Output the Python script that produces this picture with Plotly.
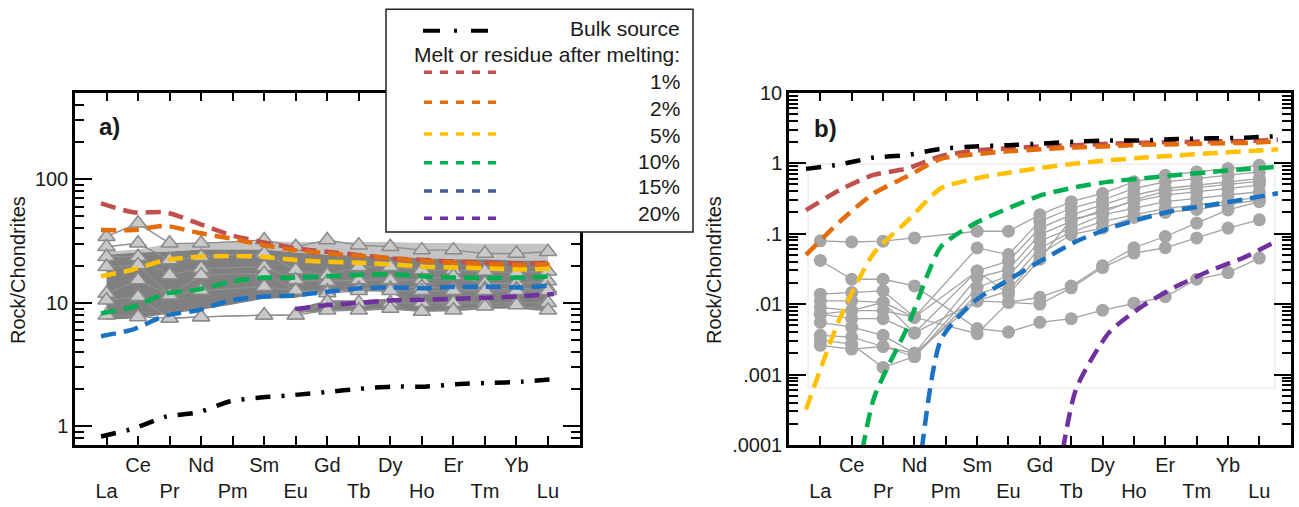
import plotly.graph_objects as go

# ---------------- data ----------------
elements = ["La", "Ce", "Pr", "Nd", "Pm", "Sm", "Eu", "Gd", "Tb", "Dy", "Ho", "Er", "Tm", "Yb", "Lu"]

bulk_source = [0.83, 0.96, 1.2, 1.3, 1.6, 1.72, 1.8, 1.9, 2.02, 2.1, 2.1, 2.2, 2.25, 2.3, 2.42]

# panel a: melts
melt_1 = [63.8, 54.0, 54.0, 44.0, 35.4, 31.0, 27.6, 25.9, 24.3, 22.9, 22.2, 21.5, 21.1, 20.8, 21.1]
melt_2 = [38.8, 38.8, 41.9, 36.9, 33.2, 29.4, 26.7, 25.1, 24.0, 22.9, 21.8, 21.1, 20.5, 20.2, 20.6]
melt_5 = [16.4, 18.6, 22.2, 23.6, 23.9, 23.6, 22.2, 21.5, 21.1, 20.5, 19.6, 19.3, 19.0, 18.6, 19.0]
melt_10 = [8.2, 9.3, 11.9, 12.8, 14.8, 16.0, 16.0, 16.4, 16.8, 17.1, 16.3, 16.0, 15.9, 16.0, 16.4]
melt_15 = [5.37, 6.1, 7.9, 8.7, 10.5, 11.2, 11.5, 12.3, 13.1, 13.3, 13.1, 13.5, 13.5, 13.3, 13.9]
melt_20 = [None, None, None, None, None, None, 8.9, 9.6, 10.0, 10.5, 10.6, 10.8, 11.0, 11.3, 11.8]

# panel a: sample envelopes (grey fields)
field_light_top = [26, 27, 30, 31, 31, 31.5, 31, 31, 31, 31, 30.5, 30.5, 30, 30, 30]
field_dark_top = [24.5, 25.5, 26, 27, 27, 27, 25.5, 24.5, 24, 23.5, 23, 22.5, 22.5, 22, 22]
field_dark_bottom = [7.3, 7.5, 8.2, 8.8, 9.7, 10.8, 11.0, 12.3, 12.5, 12.3, 8.6, 8.5, 8.9, 9.0, 8.5]
field2_elements = ["Eu", "Gd", "Tb", "Dy", "Ho"]
field2_top = [9.0, 10.5, 10.5, 10.8, 11.5]
field2_bottom = [8.3, 8.5, 8.6, 8.8, 8.5]

# panel a: samples (triangles)
sample_a1 = [34.3, 44.0, 30.3, 30.3, None, 32.2, 28.4, 32.2, 29.3, 28.4, 26.7, 26.7, 25.1, 25.1, 25.9]
sample_a2 = [28.4, 30.3, 22.2, 23.6, None, 25.1, 18.4, 16.8, 19.6, 19.6, 18.4, 18.4, 18.0, 17.5, 18.0]
sample_a3 = [23.6, 23.6, 16.8, 19.0, None, 19.6, 15.3, 14.8, 15.3, 15.3, 15.3, 16.5, 14.4, 14.4, 15.0]
sample_a4 = [19.6, 20.2, 11.5, 16.8, None, 17.3, 12.6, 12.5, 13.0, 13.0, 13.5, 13.0, 13.0, 13.0, 13.0]
sample_a5 = [11.9, 15.3, 11.5, 12.6, None, 13.5, 12.6, 12.0, 12.5, 12.5, 12.5, 12.5, 12.5, 12.5, 12.5]
sample_a6 = [10.5, 11.2, 7.5, 7.7, None, 7.95, 7.95, 10.2, 10.0, 10.0, 10.0, 10.0, 10.0, 10.0, 10.0]
sample_a7 = [7.95, 7.7, 7.5, 7.7, None, 7.95, 7.95, 8.7, 8.7, 9.0, 8.5, 8.7, 9.4, 9.6, 8.7]

# panel b: residues
residue_1 = [0.215, 0.416, 0.68, 0.84, 1.26, 1.5, 1.62, 1.74, 1.8, 1.89, 1.95, 1.99, 2.04, 2.06, 2.15]
residue_2 = [0.05, 0.148, 0.37, 0.65, 1.15, 1.34, 1.47, 1.58, 1.67, 1.74, 1.83, 1.85, 1.9, 1.94, 2.04]
residue_5 = [3.2e-4, 0.0062, 0.052, 0.15, 0.44, 0.6, 0.73, 0.86, 0.99, 1.1, 1.2, 1.29, 1.38, 1.47, 1.57]
residue_10 = [None, 1e-6, 4.4e-4, 0.0046, 0.065, 0.139, 0.229, 0.354, 0.455, 0.547, 0.61, 0.68, 0.75, 0.82, 0.89]
residue_15 = [None, None, None, 1e-6, 0.0031, 0.011, 0.022, 0.042, 0.077, 0.119, 0.165, 0.217, 0.255, 0.307, 0.374]
residue_20 = [None, None, None, None, None, None, None, 1e-6, 6e-4, 0.004, 0.0095, 0.018, 0.03, 0.046, 0.08]

# panel b: samples (circles)
sample_b01 = [0.079, 0.076, 0.078, 0.087, None, 0.108, 0.108, 0.185, 0.284, 0.372, 0.543, 0.674, 0.751, 0.837, 0.932]
sample_b02 = [0.0416, 0.0225, 0.0225, 0.0181, None, 0.0045, 0.004, 0.0055, 0.0062, 0.0082, 0.0103, 0.0127, 0.0225, 0.028, 0.045]
sample_b03 = [0.0138, 0.0146, 0.0154, 0.0065, None, 0.0038, 0.0106, 0.0125, 0.018, 0.035, 0.063, 0.091, 0.141, 0.217, 0.284]
sample_b04 = [0.0111, 0.0111, 0.0106, 0.0039, None, 0.0111, 0.0106, 0.010, 0.017, 0.033, 0.053, 0.063, 0.087, 0.12, 0.157]
sample_b05 = [0.009, 0.0081, 0.0081, 0.0065, None, 0.0626, 0.0505, 0.149, 0.229, 0.30, 0.437, 0.543, 0.605, 0.674, 0.751]
sample_b06 = [0.0072, 0.0062, 0.0062, 0.0039, None, 0.0295, 0.0407, 0.12, 0.185, 0.255, 0.353, 0.437, 0.488, 0.543, 0.605]
sample_b07 = [0.0055, 0.0047, 0.0036, 0.002, None, 0.0238, 0.031, 0.097, 0.149, 0.217, 0.284, 0.353, 0.393, 0.437, 0.488]
sample_b08 = [0.0036, 0.0034, 0.0025, 0.0018, None, 0.0172, 0.025, 0.078, 0.12, 0.185, 0.229, 0.284, 0.316, 0.353, 0.393]
sample_b09 = [0.0031, 0.0027, 0.00126, 0.0018, None, 0.0138, 0.0191, 0.0626, 0.105, 0.149, 0.185, 0.229, 0.255, 0.284, 0.33]
sample_b10 = [0.0026, 0.0023, 0.0025, 0.002, None, 0.0111, 0.0154, 0.0505, 0.097, 0.12, 0.17, 0.2, 0.22, 0.26, 0.3]
sample_b11 = [0.0072, 0.0081, 0.0106, 0.0065, None, 0.0295, 0.0138, 0.0433, 0.16, 0.2, 0.3, 0.4, 0.45, 0.5, 0.55]

samples_a = [sample_a1, sample_a2, sample_a3, sample_a4, sample_a5, sample_a6, sample_a7]
samples_b = [sample_b01, sample_b02, sample_b03, sample_b04, sample_b05, sample_b06,
             sample_b07, sample_b08, sample_b09, sample_b10, sample_b11]

melt_labels = ["1%", "2%", "5%", "10%", "15%", "20%"]
melts = [melt_1, melt_2, melt_5, melt_10, melt_15, melt_20]
residues = [residue_1, residue_2, residue_5, residue_10, residue_15, residue_20]

y_ticks_a = [1, 10, 100]
y_ticktext_a = ["1", "10", "100"]
y_ticks_b = [1e-4, 1e-3, 1e-2, 1e-1, 1, 10]
y_ticktext_b = [".0001", ".001", ".01", ".1", "1", "10"]

# ---------------- style ----------------
W, H = 1299, 507
FONT = "Liberation Sans, Arial, Helvetica, sans-serif"
TXT = "#1a1a1a"
curve_colors = ["#c0504d", "#e46c0a", "#ffc000", "#00b050", "#1a72c4", "#7030a0"]
legend_colors = ["#c0504d", "#e46c0a", "#ffc000", "#00b050", "#3a5f95", "#7030a0"]
CURVE_DASH = "15px,8px"
BULK_DASH = "15px,11px,3px,11px"

positions = list(range(len(elements)))
tick_text = [e if i % 2 else " <br>" + e for i, e in enumerate(elements)]
minor_vals = [m * 10.0 ** e for e in range(-5, 3) for m in range(2, 10)]


def px(x):
    return x / W


def py(y):
    return 1 - y / H


fig = go.Figure()

# ---- panel a: grey fields ----
fig.add_trace(go.Scatter(x=positions, y=field_dark_top, mode="lines", line=dict(width=0),
                         showlegend=False, hoverinfo="skip", xaxis="x", yaxis="y"))
fig.add_trace(go.Scatter(x=positions, y=field_light_top, mode="lines", line=dict(width=0),
                         fill="tonexty", fillcolor="#c4c4c4",
                         showlegend=False, hoverinfo="skip", xaxis="x", yaxis="y"))
fig.add_trace(go.Scatter(x=positions, y=field_dark_bottom, mode="lines", line=dict(width=0),
                         showlegend=False, hoverinfo="skip", xaxis="x", yaxis="y"))
fig.add_trace(go.Scatter(x=positions, y=field_dark_top, mode="lines", line=dict(width=0),
                         fill="tonexty", fillcolor="#808080",
                         showlegend=False, hoverinfo="skip", xaxis="x", yaxis="y"))
f2x = [elements.index(e) for e in field2_elements]
fig.add_trace(go.Scatter(x=f2x, y=field2_bottom, mode="lines", line=dict(width=0),
                         showlegend=False, hoverinfo="skip", xaxis="x", yaxis="y"))
fig.add_trace(go.Scatter(x=f2x, y=field2_top, mode="lines", line=dict(width=0),
                         fill="tonexty", fillcolor="#808080",
                         showlegend=False, hoverinfo="skip", xaxis="x", yaxis="y"))

# ---- panel a: samples ----
for s in samples_a:
    fig.add_trace(go.Scatter(
        x=positions, y=s, mode="lines+markers", connectgaps=True,
        line=dict(color="#8e8e8e", width=1.4),
        marker=dict(symbol="triangle-up", size=15, color="#c9c9c9",
                    line=dict(color="#8a8a8a", width=1.5)),
        showlegend=False, hoverinfo="skip", xaxis="x", yaxis="y"))

# ---- panel a: model melts ----
for vals, col in zip(melts, curve_colors):
    fig.add_trace(go.Scatter(
        x=positions, y=vals, mode="lines", line=dict(color=col, width=4.5, dash=CURVE_DASH, shape="spline", smoothing=0.6),
        showlegend=False, hoverinfo="skip", xaxis="x3", yaxis="y"))
fig.add_trace(go.Scatter(
    x=positions, y=bulk_source, mode="lines",
    line=dict(color="black", width=4.5, dash=BULK_DASH, shape="spline", smoothing=0.6),
    showlegend=False, hoverinfo="skip", xaxis="x3", yaxis="y"))

# ---- panel b: samples ----
for s in samples_b:
    fig.add_trace(go.Scatter(
        x=positions, y=s, mode="lines+markers", connectgaps=True,
        line=dict(color="#a3a3a3", width=1.3),
        marker=dict(symbol="circle", size=13, color="#a6a6a6"),
        showlegend=False, hoverinfo="skip", xaxis="x2", yaxis="y2"))

# ---- panel b: model residues ----
for vals, col in zip(residues, curve_colors):
    fig.add_trace(go.Scatter(
        x=positions, y=vals, mode="lines", line=dict(color=col, width=4.5, dash=CURVE_DASH, shape="spline", smoothing=0.6),
        showlegend=False, hoverinfo="skip", xaxis="x4", yaxis="y2"))
fig.add_trace(go.Scatter(
    x=positions, y=bulk_source, mode="lines",
    line=dict(color="black", width=4.5, dash=BULK_DASH, shape="spline", smoothing=0.6),
    showlegend=False, hoverinfo="skip", xaxis="x4", yaxis="y2"))

# ---------------- axes ----------------
xa_common = dict(range=[-1, 15], tickmode="array", tickvals=positions, ticktext=tick_text,
                 tickangle=0, automargin=False,
                 ticks="inside", ticklen=9, tickwidth=2, tickcolor="black",
                 showline=True, linewidth=2.5, linecolor="black", mirror="ticks",
                 showgrid=False, zeroline=False,
                 tickfont=dict(family=FONT, size=20, color=TXT))
ya_common = dict(type="log", tickmode="array", automargin=False,
                 ticks="inside", ticklen=17, tickwidth=2, tickcolor="black",
                 showline=True, linewidth=2.5, linecolor="black", mirror="ticks",
                 showgrid=False, zeroline=False,
                 minor=dict(tickmode="array", tickvals=minor_vals, ticks="inside",
                            ticklen=9, tickwidth=1.5, tickcolor="black", showgrid=False),
                 tickfont=dict(family=FONT, size=20, color=TXT))

dom_y = [py(445), py(92.7)]
dom_xa = [px(75), px(579.5)]
dom_xb = [px(789), px(1290.7)]

fig.update_layout(
    width=W, height=H,
    margin=dict(l=0, r=0, t=0, b=0, autoexpand=False),
    paper_bgcolor="white", plot_bgcolor="white",
    showlegend=False,
    font=dict(family=FONT, color=TXT),
    xaxis=dict(domain=dom_xa, anchor="y", **xa_common),
    yaxis=dict(domain=dom_y, anchor="x", range=[-0.15, 2.70],
               tickvals=y_ticks_a, ticktext=y_ticktext_a, **ya_common),
    xaxis2=dict(domain=dom_xb, anchor="y2", **xa_common),
    yaxis2=dict(domain=dom_y, anchor="x2", range=[-4, 1],
                tickvals=y_ticks_b, ticktext=y_ticktext_b, **ya_common),
    xaxis3=dict(overlaying="x", anchor="y", range=[-0.803, 14.788], visible=False),
    xaxis4=dict(overlaying="x2", anchor="y2", range=[-0.504, 14.377], visible=False),
)

shapes = []
# faint frame in panel b
shapes.append(dict(type="rect", xref="paper", yref="paper",
                   x0=px(808), x1=px(1275), y0=py(388), y1=py(164),
                   line=dict(color="#e4e4e4", width=1), layer="below"))
# legend box
shapes.append(dict(type="rect", xref="paper", yref="paper",
                   x0=px(386), x1=px(693), y0=py(232), y1=py(9.3),
                   line=dict(color="#222222", width=1.5), fillcolor="white", layer="above"))
shapes.append(dict(type="line", xref="paper", yref="paper",
                   x0=px(423), x1=px(502), y0=py(30.7), y1=py(30.7),
                   line=dict(color="black", width=4, dash="17px,14px,3px,14px"), layer="above"))
legend_line_y = [72.3, 102.3, 134, 162.7, 191, 218.3]
legend_text_y = [81.7, 108.3, 135, 161.7, 186.7, 213.3]
for yy, col in zip(legend_line_y, legend_colors):
    shapes.append(dict(type="line", xref="paper", yref="paper",
                       x0=px(424), x1=px(498), y0=py(yy), y1=py(yy),
                       line=dict(color=col, width=3.5, dash="8px,8px"), layer="above"))

annotations = []
annotations.append(dict(text="Bulk source", x=px(682), y=py(29), xref="paper", yref="paper",
                        xanchor="right", yanchor="middle", showarrow=False,
                        font=dict(family=FONT, size=21, color=TXT)))
annotations.append(dict(text="Melt or residue after melting:", x=px(682), y=py(54.3),
                        xref="paper", yref="paper", xanchor="right", yanchor="middle",
                        showarrow=False, font=dict(family=FONT, size=21, color=TXT)))
for yy, lab in zip(legend_text_y, melt_labels):
    annotations.append(dict(text=lab, x=px(682), y=py(yy), xref="paper", yref="paper",
                            xanchor="right", yanchor="middle", showarrow=False,
                            font=dict(family=FONT, size=21, color=TXT)))
annotations.append(dict(text="<b>a)</b>", x=px(97), y=py(127), xref="paper", yref="paper",
                        xanchor="left", yanchor="middle", showarrow=False,
                        font=dict(family=FONT, size=24, color=TXT)))
annotations.append(dict(text="<b>b)</b>", x=px(812), y=py(129), xref="paper", yref="paper",
                        xanchor="left", yanchor="middle", showarrow=False,
                        font=dict(family=FONT, size=24, color=TXT)))
for xx in (18, 714):
    annotations.append(dict(text="Rock/Chondrites", x=px(xx), y=py(270), xref="paper", yref="paper",
                            xanchor="center", yanchor="middle", textangle=-90, showarrow=False,
                            font=dict(family=FONT, size=20, color=TXT)))

fig.update_layout(shapes=shapes, annotations=annotations)

fig.write_html("out.html",
               config={"displayModeBar": False},
               post_script="document.body.style.margin='0';document.body.style.padding='0';"
                           "document.body.style.overflow='hidden';")
